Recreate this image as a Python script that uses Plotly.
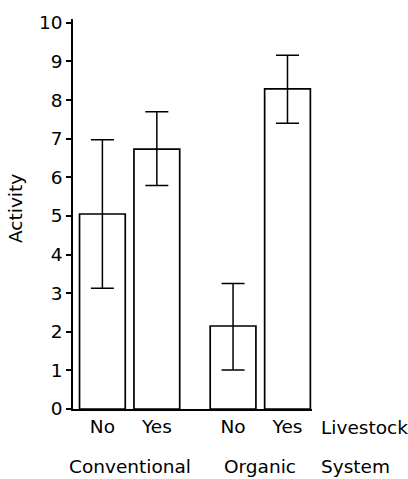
import plotly.graph_objects as go

# Data
livestock = ["No", "Yes", "No", "Yes"]
systems = ["Conventional", "Conventional", "Organic", "Organic"]
system_labels = ["Conventional", "Organic"]
activity = [5.05, 6.73, 2.15, 8.29]
upper = [6.97, 7.70, 3.25, 9.16]
lower = [3.13, 5.79, 1.01, 7.40]
y_ticks = [0, 1, 2, 3, 4, 5, 6, 7, 8, 9, 10]

# positions: bars within a group 1 apart, groups separated by an extra gap
group_gap = 1.4
xpos = []
for i, s in enumerate(systems):
    g = system_labels.index(s)
    within = i - systems.index(s)
    xpos.append(g * group_gap + within + g * 1.0 if False else g * (1 + group_gap) + within)

err_plus = [u - m for u, m in zip(upper, activity)]
err_minus = [m - l for m, l in zip(activity, lower)]

FONT = "DejaVu Sans"
FS = 18.5

fig = go.Figure()
fig.add_trace(go.Bar(
    x=xpos, y=activity, width=0.84,
    marker=dict(color="white", line=dict(color="black", width=1.7)),
    error_y=dict(type="data", symmetric=False, array=err_plus, arrayminus=err_minus,
                 color="black", thickness=1.5, width=11.5),
    showlegend=False, hoverinfo="skip",
))

group_centers = []
for s in system_labels:
    xs = [x for x, ss in zip(xpos, systems) if ss == s]
    group_centers.append(sum(xs) / len(xs))

annotations = []
for s, c in zip(system_labels, group_centers):
    annotations.append(dict(text=s, x=c, xref="x", y=0, yref="paper", yanchor="middle",
                            yshift=-57, showarrow=False, font=dict(family=FONT, size=FS, color="black")))
annotations.append(dict(text="Livestock", x=1, xref="paper", xanchor="left", xshift=7,
                        y=0, yref="paper", yanchor="middle", yshift=-18, showarrow=False,
                        font=dict(family=FONT, size=FS, color="black")))
annotations.append(dict(text="System", x=1, xref="paper", xanchor="left", xshift=7,
                        y=0, yref="paper", yanchor="middle", yshift=-57, showarrow=False,
                        font=dict(family=FONT, size=FS, color="black")))
annotations.append(dict(text="Activity", x=0, xref="paper", xanchor="center", xshift=-58,
                        y=205.5, yref="paper", yanchor="middle", showarrow=False, textangle=-90,
                        font=dict(family=FONT, size=FS, color="black")))
annotations[-1]["y"] = 0.5
annotations[-1]["yshift"] = 5

fig.update_layout(
    width=408, height=479,
    margin=dict(l=73, r=96, t=12, b=70),
    paper_bgcolor="white", plot_bgcolor="white",
    font=dict(family=FONT, size=FS, color="black"),
    annotations=annotations,
    xaxis=dict(
        range=[-0.54, 3.85], tickmode="array", tickvals=xpos, ticktext=livestock,
        ticks="", showline=True, linecolor="black", linewidth=1.7, showgrid=False,
        zeroline=False, tickfont=dict(family=FONT, size=FS, color="black"),
    ),
    yaxis=dict(
        range=[0, 10.1], tickmode="array", tickvals=y_ticks,
        ticks="outside", ticklen=5, tickwidth=1.5, tickcolor="black",
        showline=True, linecolor="black", linewidth=1.7, showgrid=False,
        zeroline=False, tickfont=dict(family=FONT, size=FS, color="black"),
    ),
)

fig.write_html("out.html")
